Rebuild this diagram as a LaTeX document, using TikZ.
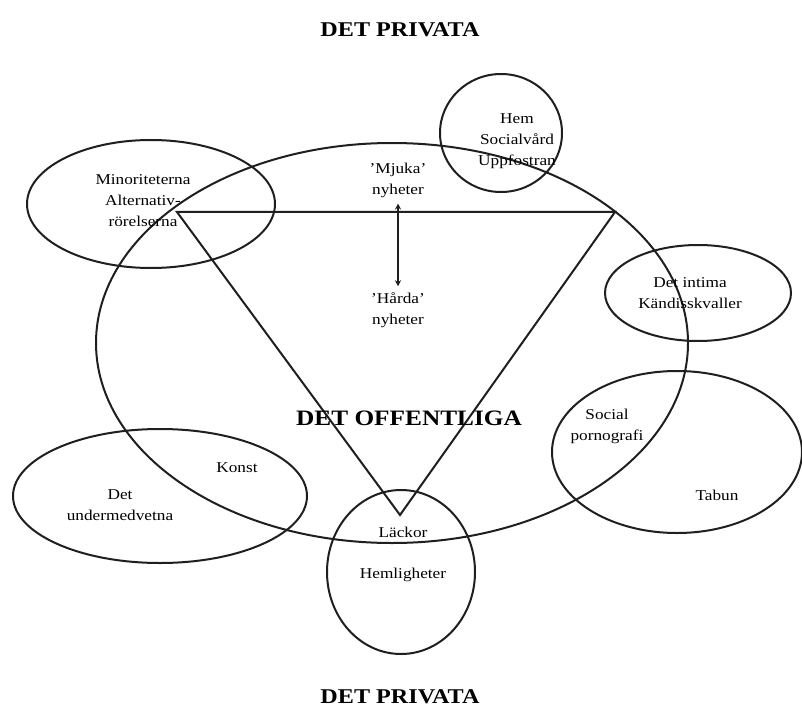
\documentclass[tikz,border=0pt]{standalone}
\usepackage{fontspec}
\setmainfont{Liberation Serif}[FakeStretch=1.15]
\usetikzlibrary{arrows.meta}
\begin{document}
\begin{tikzpicture}[x=1pt,y=-1pt,
  ln/.style={line width=2pt, draw=black!88},
  lbl/.style={font=\fontsize{15}{21}\selectfont, align=center, inner sep=0pt, text=black},
  ttl/.style={font=\bfseries\fontsize{21}{24}\selectfont, inner sep=0pt, text=black},
  big/.style={font=\bfseries\fontsize{22}{26}\selectfont, inner sep=0pt, text=black}]
\useasboundingbox (0,0) rectangle (802,711);
\fill[white] (0,0) rectangle (802,711);
% circles and ellipses
\draw[ln] (392,343) ellipse [x radius=296, y radius=200];
\draw[ln] (151,204) ellipse [x radius=124, y radius=64];
\draw[ln] (501,133) ellipse [x radius=61, y radius=59];
\draw[ln] (698,293) ellipse [x radius=93, y radius=48];
\draw[ln] (677,452) ellipse [x radius=125, y radius=81];
\draw[ln] (160,496) ellipse [x radius=147, y radius=67];
\draw[ln] (401,572) ellipse [x radius=74, y radius=82];
% triangle
\coordinate (tA) at (177,212);
\coordinate (tB) at (615,212);
\coordinate (tC) at (400,515);
\draw[ln, line join=miter] (tA) -- (tB) -- (tC) -- cycle;
% texts
\node[ttl] (privtop) at (400,30) {DET PRIVATA};
\node[ttl] (privbot) at (400,697) {DET PRIVATA};
\node[big] (offentliga) at (409,418) {DET OFFENTLIGA};
\node[lbl] (hem) at (517,141) {Hem\\Socialvård\\Uppfostran};
\node[lbl] (minor) at (143,201) {Minoriteterna\\Alternativ-\\rörelserna};
\node[lbl] (mjuka) at (398,180) {’Mjuka’\\nyheter};
\node[lbl] (harda) at (398,310) {’Hårda’\\nyheter};
\node[lbl] (intima) at (690,293) {Det intima\\Kändisskvaller};
\node[lbl] (social) at (607,426) {Social\\pornografi};
\node[lbl] (tabun) at (717,495) {Tabun};
\node[lbl] (under) at (120,505) {Det\\undermedvetna};
\node[lbl] (konst) at (237,468) {Konst};
\node[lbl] (lackor) at (403,532) {Läckor};
\node[lbl] (hemlig) at (403,575) {Hemligheter};
% arrow
\draw[line width=1.3pt, draw=black!88, {Stealth[length=6pt,width=6pt]}-{Stealth[length=6pt,width=6pt]}]
  ([yshift=-6pt]mjuka.south) -- ([yshift=6pt]harda.north);
\end{tikzpicture}
\end{document}
